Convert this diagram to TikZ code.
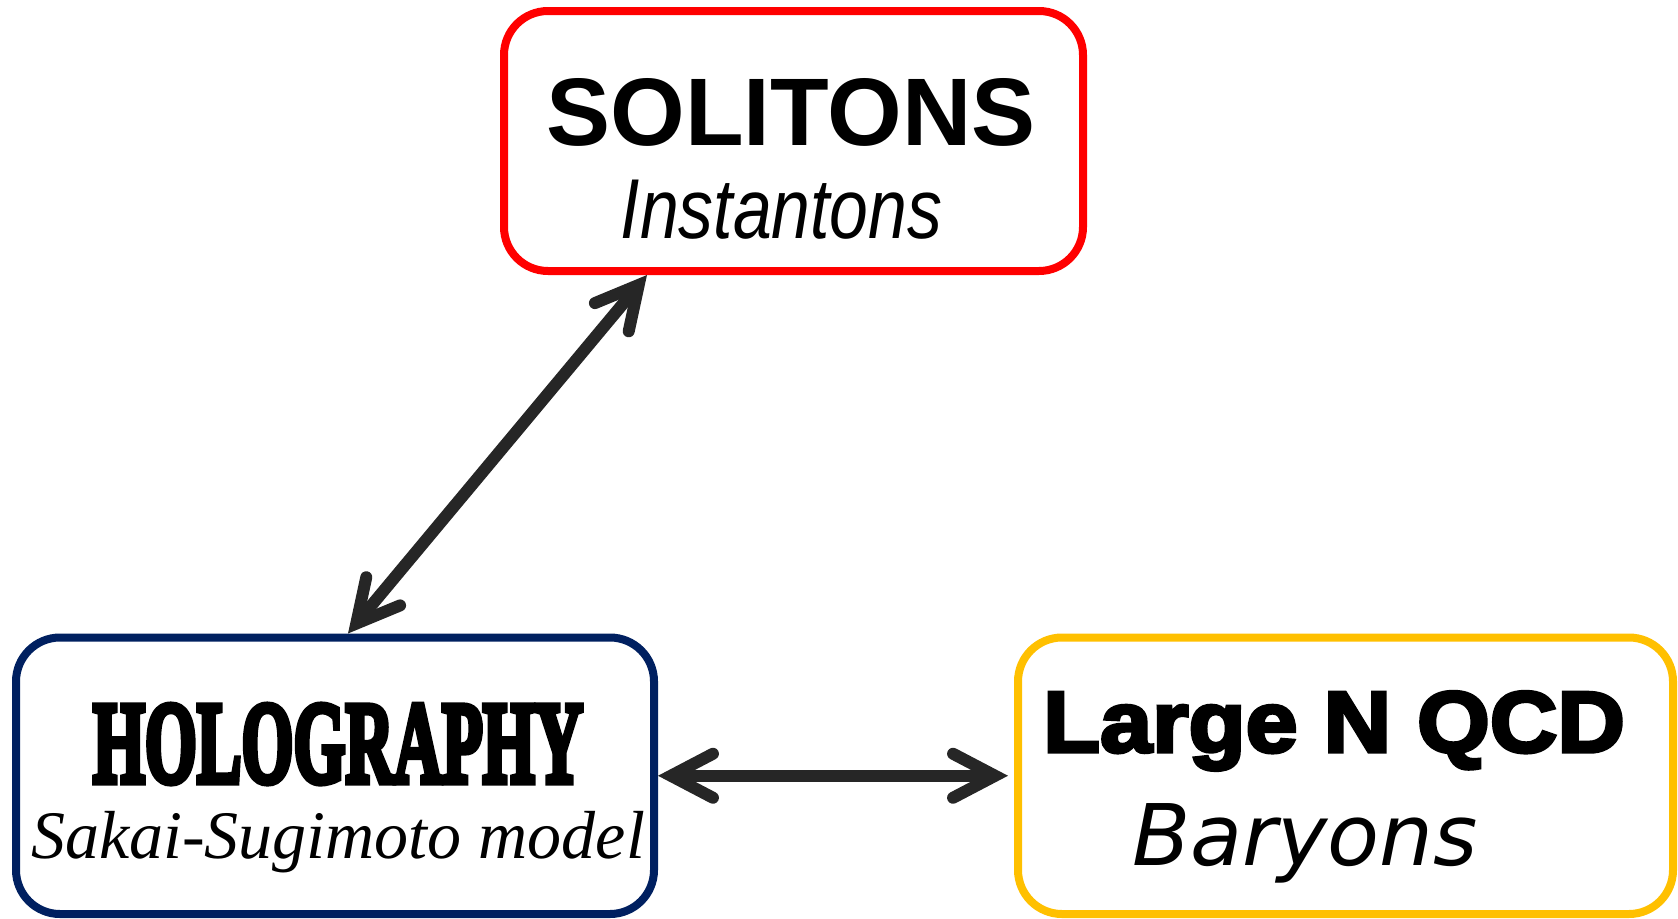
\documentclass[tikz,border=0pt]{standalone}
\usepackage{fontspec}
\usepackage{graphicx}
\usetikzlibrary{arrows.meta}
\setmainfont{Liberation Serif}
% faces used for the labels
\newfontfamily\titlesans{Liberation Sans Bold}
\newfontfamily\narrowital[FakeStretch=0.82]{Liberation Sans Italic}
\newfontfamily\heavyserif[FakeBold=6]{Liberation Serif Bold}
\newfontfamily\serifital{Liberation Serif Italic}
\newfontfamily\blacksans[FakeBold=4,FakeStretch=1.08]{Liberation Sans Bold}
\newfontfamily\obliquesans{DejaVu Sans Oblique}
\definecolor{solred}{HTML}{FF0000}
\definecolor{holoblue}{HTML}{002060}
\definecolor{qcdgold}{HTML}{FFC000}
\definecolor{arrowgray}{HTML}{262626}
\tikzset{
  panel/.style={draw=#1, line width=8pt, rounded corners=44pt, rectangle, fill=white, inner sep=0pt},
  lbl/.style={anchor=base, inner sep=0pt, outer sep=0pt},
  barb/.tip={Straight Barb[length=42pt,width=44pt,line width=12pt,line cap=round,line join=miter]},
  link/.style={draw=arrowgray, line width=12pt, barb-barb}
}
\begin{document}
\begin{tikzpicture}[x=1pt,y=-1pt]
\useasboundingbox (0,0) rectangle (1678,918);
% the three boxes
\node[panel=solred, minimum width=579pt, minimum height=260pt] (sol) at (793.5,141) {};
\node[panel=holoblue, minimum width=638pt, minimum height=276.5pt] (holo) at (335,775.75) {};
\node[panel=qcdgold, minimum width=655pt, minimum height=276.5pt] (qcd) at (1345.5,775.75) {};
% labels
\node[lbl] (solT) at (791,145) {\fontsize{96}{100}\titlesans SOLITONS};
\node[lbl] (solS) at (781.5,238) {\fontsize{85}{90}\narrowital Instantons};
\node[lbl] (holoT) at (338,782) {\resizebox{490pt}{77pt}{\heavyserif HOLOGRAPHY}};
\node[lbl] (holoS) at (338,858) {\fontsize{68}{72}\serifital Sakai-Sugimoto model};
\node[lbl] (qcdT) at (1334,752) {\fontsize{86.6}{90}\blacksans Large N QCD};
\node[lbl] (qcdS) at (1305,865) {\fontsize{85}{90}\obliquesans Baryons};
% connectors
\draw[link] ([xshift=13pt]holo.north) -- ([xshift=-146.5pt]sol.south);
\draw[link] (holo.east) -- ([xshift=-6pt]qcd.west);
\end{tikzpicture}
\end{document}
